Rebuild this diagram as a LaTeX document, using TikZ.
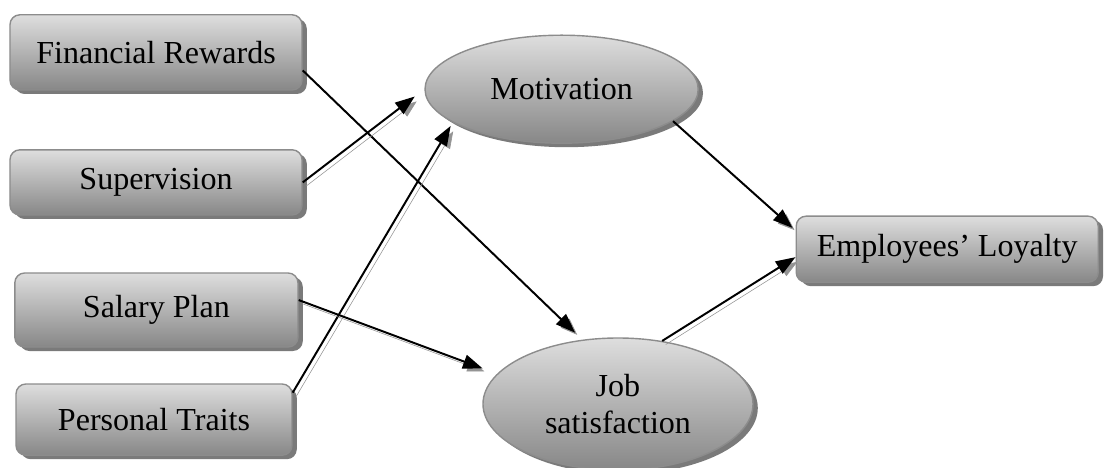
\documentclass[tikz,border=0pt]{standalone}
\usepackage{fontspec}
\setmainfont{Liberation Serif}
\usetikzlibrary{arrows.meta,shapes.geometric,shadows}

\begin{document}
\begin{tikzpicture}[
    factor/.style = {draw=black!45, line width=1pt, rounded corners=7pt,
        top color=black!13, bottom color=black!47, inner sep=0pt,
        drop shadow={shadow xshift=0.12cm, shadow yshift=-0.1cm, opacity=1, fill=black!52},
        font=\fontsize{22.8}{26.3}\selectfont},
    latent/.style = {factor, ellipse, rounded corners=0pt, align=center},
    link/.style = {-{Triangle[length=14pt,width=10pt]}, line width=1.4pt,
        preaction={draw=black!42, transform canvas={shift={(0.09cm,-0.09cm)}}}}]
    \useasboundingbox (0,0) rectangle (27.6,-11.7);

    \node[factor, minimum width=7.3cm, minimum height=1.88cm] (FR) at (3.9, -1.31) {Financial Rewards};
    \node[factor, minimum width=7.3cm, minimum height=1.63cm] (Sup) at (3.9, -4.56) {Supervision};
    \node[factor, minimum width=7.08cm, minimum height=1.85cm] (Sal) at (3.91, -7.75) {Salary Plan};
    \node[factor, minimum width=6.9cm, minimum height=1.78cm] (PT) at (3.85, -10.49) {Personal Traits};

    \node[latent, minimum width=6.83cm, minimum height=2.7cm] (Mot) at (14.04, -2.23) {Motivation};
    \node[latent, minimum width=6.75cm, minimum height=3.3cm] (Job) at (15.45, -10.1) {Job\\satisfaction};
    \node[factor, minimum width=7.55cm, minimum height=1.65cm] (EL) at (23.68, -6.23) {Employees’ Loyalty};

    \draw[link, shorten >=0.25cm] (FR.-7) -- (Job.119);
    \draw[link, shorten >=0.3cm] (Sup.east) -- (Mot.west);
    \draw[link, shorten >=0.1cm] (PT.11) -- (Mot.197);
    \draw[link, shorten >=0.38cm] (Sal.4) -- (Job.166);
    \draw[link, shorten >=0.1cm] (Mot.-16) -- (EL.173);
    \draw[link] (Job.55) -- (EL.183);
\end{tikzpicture}
\end{document}
